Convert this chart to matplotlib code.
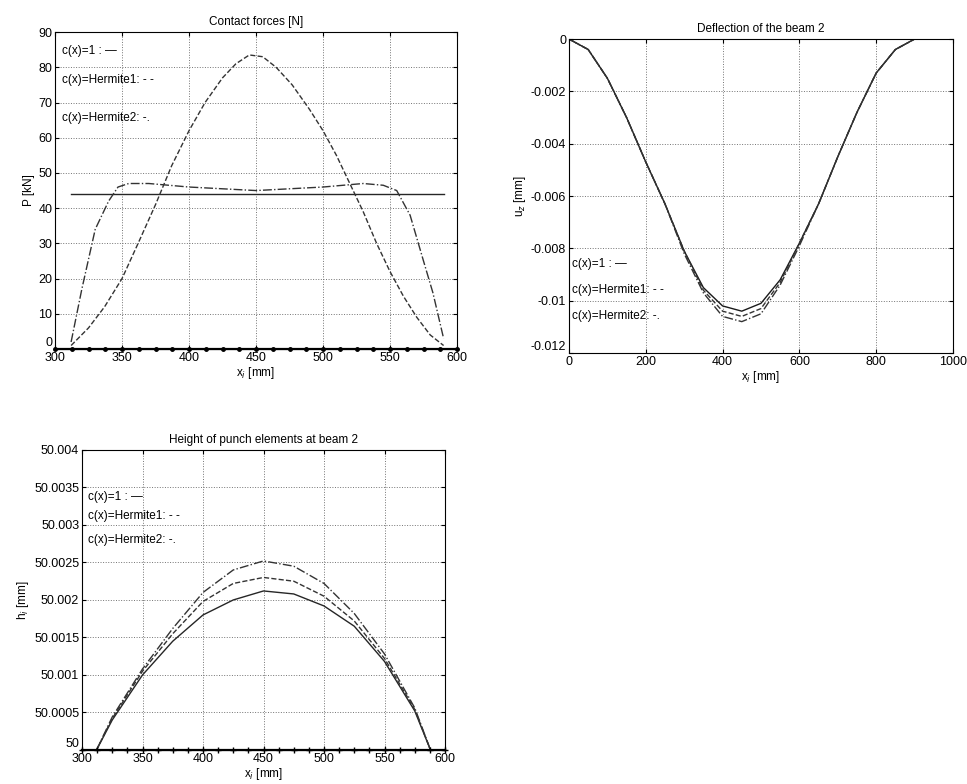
import numpy as np
import matplotlib.pyplot as plt

plt.rcParams["font.family"] = ["Liberation Sans", "DejaVu Sans"]
plt.rcParams["font.size"] = 9

# element positions along the punch (mm)
elem_x = [300, 312.5, 325, 337.5, 350, 362.5, 375, 387.5, 400, 412.5, 425, 437.5, 450,
          462.5, 475, 487.5, 500, 512.5, 525, 537.5, 550, 562.5, 575, 587.5, 600]

# --- contact forces [kN]
force_x_c1 = [312, 590]
force_c1 = [44, 44]
force_x_h1 = [312, 325, 337, 350, 362, 375, 387, 400, 412, 425, 435, 445, 455, 465,
              477, 490, 500, 510, 520, 530, 540, 550, 560, 570, 580, 590]
force_h1 = [1, 6, 12, 20, 30, 41, 52, 62, 70, 77, 81, 83.5, 83, 80,
            75, 68, 62, 55, 47, 39, 30, 22, 15, 9, 4, 1]
force_x_h2 = [312, 320, 330, 340, 347, 355, 370, 400, 450, 500, 530, 545, 555, 565, 575, 582, 590]
force_h2 = [2, 17, 34, 42, 46, 47, 47, 46, 45, 46, 47, 46.5, 45, 38, 25, 16, 3]

# --- deflection of beam 2 [mm]
defl_x = [0, 50, 100, 150, 200, 250, 300, 350, 400, 450, 500,
          550, 600, 650, 700, 750, 800, 850, 900, 950, 1000]
defl_c1 = [0, -0.0004, -0.0015, -0.0030, -0.0047, -0.0063, -0.0081, -0.0095, -0.0102, -0.0104,
           -0.0101, -0.0092, -0.0078, -0.0063, -0.0045, -0.0028, -0.0013, -0.0004, 0, 0, 0]
defl_h1 = [0, -0.0004, -0.0015, -0.0030, -0.0047, -0.0063, -0.0081, -0.0096, -0.0104, -0.0106,
           -0.0103, -0.0093, -0.0078, -0.0063, -0.0045, -0.0028, -0.0013, -0.0004, 0, 0, 0]
defl_h2 = [0, -0.0004, -0.0015, -0.0030, -0.0047, -0.0063, -0.0082, -0.0097, -0.0106, -0.0108,
           -0.0105, -0.0094, -0.0079, -0.0063, -0.0045, -0.0028, -0.0013, -0.0004, 0, 0, 0]

# --- height of punch elements [mm]
h_x = [312, 325, 350, 375, 400, 425, 450, 475, 500, 525, 550, 575, 588]
h_c1 = [50, 50.00040, 50.00100, 50.00145, 50.00180, 50.00200, 50.00212, 50.00208,
        50.00192, 50.00165, 50.00118, 50.00052, 50]
h_h1 = [50, 50.00042, 50.00105, 50.00155, 50.00198, 50.00222, 50.00230, 50.00225,
        50.00205, 50.00172, 50.00122, 50.00054, 50]
h_h2 = [50, 50.00044, 50.00108, 50.00162, 50.00210, 50.00240, 50.00252, 50.00245,
        50.00222, 50.00182, 50.00128, 50.00056, 50]

leg_labels = ["c(x)=1 : \u2014", "c(x)=Hermite1: - -", "c(x)=Hermite2: -."]

fig = plt.figure(figsize=(9.67, 7.84), dpi=100)
ax1 = fig.add_axes([0.0569, 0.5548, 0.4157, 0.4043])
ax2 = fig.add_axes([0.5884, 0.5497, 0.3971, 0.4005])
ax3 = fig.add_axes([0.0848, 0.0434, 0.3754, 0.3827])


def style(ax):
    ax.grid(True, linestyle=":", color="0.45", linewidth=0.7)
    ax.tick_params(direction="in", top=True, right=True, length=3, labelsize=9, pad=2)
    for s in ax.spines.values():
        s.set_linewidth(0.8)
    # lowest y label sits just above the corner, like the original
    ax.yaxis.get_major_ticks()[0].label1.set_verticalalignment("bottom")


# contact forces
ax1.plot(force_x_c1, force_c1, "-", color="0.15", lw=1)
ax1.plot(force_x_h1, force_h1, "--", color="0.2", lw=1)
ax1.plot(force_x_h2, force_h2, "-.", color="0.2", lw=1)
ax1.plot(elem_x, np.zeros(len(elem_x)), color="k", lw=1.6, marker=".", ms=5, clip_on=False)
ax1.set_xlim(300, 600)
ax1.set_ylim(0, 90)
ax1.set_xticks([300, 350, 400, 450, 500, 550, 600])
ax1.set_yticks(range(0, 91, 10))
ax1.set_title("Contact forces [N]", fontsize=8.5, pad=5)
ax1.set_xlabel("x$_i$ [mm]", fontsize=8.5, labelpad=1)
ax1.set_ylabel("P [kN]", fontsize=8.5, labelpad=2)
for yy, lab in zip([84.5, 76.5, 65.5], leg_labels):
    ax1.text(305, yy, lab, fontsize=8.5, va="center")
style(ax1)

# deflection
ax2.plot(defl_x, defl_c1, "-", color="0.1", lw=1)
ax2.plot(defl_x, defl_h1, "--", color="0.2", lw=1)
ax2.plot(defl_x, defl_h2, "-.", color="0.2", lw=1)
ax2.set_xlim(0, 1000)
ax2.set_ylim(-0.012, 0)
ax2.set_xticks([0, 200, 400, 600, 800, 1000])
ax2.set_yticks([-0.012, -0.01, -0.008, -0.006, -0.004, -0.002, 0])
ax2.set_yticklabels(["-0.012", "-0.01", "-0.008", "-0.006", "-0.004", "-0.002", "0"])
ax2.set_title("Deflection of the beam 2", fontsize=8.5, pad=5)
ax2.set_xlabel("x$_i$ [mm]", fontsize=8.5, labelpad=1)
ax2.set_ylabel("u$_z$ [mm]", fontsize=8.5, labelpad=2)
for yy, lab in zip([-0.0086, -0.0096, -0.0106], leg_labels):
    ax2.text(8, yy, lab, fontsize=8.5, va="center")
style(ax2)

# height of punch elements
ax3.plot(h_x, h_c1, "-", color="0.15", lw=1)
ax3.plot(h_x, h_h1, "--", color="0.2", lw=1)
ax3.plot(h_x, h_h2, "-.", color="0.2", lw=1)
ax3.plot(elem_x, np.full(len(elem_x), 50.0), color="k", lw=1.6, marker="+", ms=5, clip_on=False)
ax3.set_xlim(300, 600)
ax3.set_ylim(50, 50.004)
ax3.set_xticks([300, 350, 400, 450, 500, 550, 600])
hticks = [50, 50.0005, 50.001, 50.0015, 50.002, 50.0025, 50.003, 50.0035, 50.004]
ax3.set_yticks(hticks)
ax3.set_yticklabels(["50", "50.0005", "50.001", "50.0015", "50.002", "50.0025",
                     "50.003", "50.0035", "50.004"])
ax3.set_title("Height of punch elements at beam 2", fontsize=8.5, pad=5)
ax3.set_xlabel("x$_i$ [mm]", fontsize=8.5, labelpad=1)
ax3.set_ylabel("h$_i$ [mm]", fontsize=8.5, labelpad=2)
for yy, lab in zip([50.00337, 50.00312, 50.0028], leg_labels):
    ax3.text(305, yy, lab, fontsize=8.5, va="center")
style(ax3)

fig.savefig("out.png", dpi=100)
